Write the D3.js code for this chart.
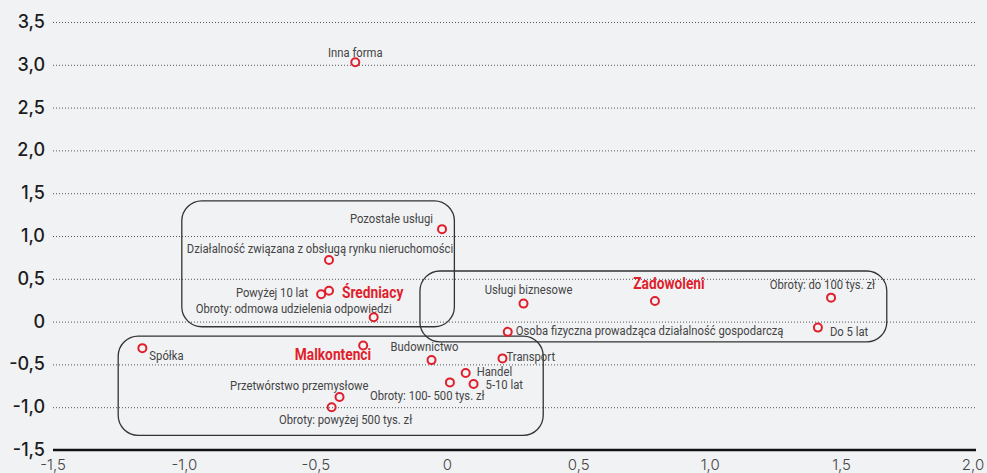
<!DOCTYPE html>
<html>
<head>
<meta charset="utf-8">
<script src="https://cdn.jsdelivr.net/npm/d3@7"></script>
<style>
  body { margin: 0; background: #f1f2f4; }
  svg { display: block; }
  .tick-y { font-family: Inter, "Open Sans", sans-serif; font-size: 18px; font-weight: 500; fill: #1c1c1c; }
  .tick-x { font-family: Inter, "Open Sans", sans-serif; font-size: 15px; font-weight: 300; fill: #444; }
  .pt-label { font-family: Roboto, "DejaVu Sans Condensed", sans-serif; font-size: 13.5px; font-weight: 400; fill: #444; }
  .grp-label { font-family: Roboto, "DejaVu Sans Condensed", sans-serif; font-size: 16px; font-weight: bold; fill: #e01f2d; }
</style>
</head>
<body>
<div id="chart"></div>
<script>
// segment names and their positions (x, y)
const names = [
  "Inna forma", "Pozostałe usługi", "Działalność związana z obsługą rynku nieruchomości",
  "Powyżej 10 lat", "Obroty: odmowa udzielenia odpowiedzi", "Usługi biznesowe",
  "Obroty: do 100 tys. zł", "Osoba fizyczna prowadząca działalność gospodarczą", "Do 5 lat",
  "Spółka", "Budownictwo", "Transport", "Handel", "5-10 lat",
  "Obroty: 100- 500 tys. zł", "Przetwórstwo przemysłowe", "Obroty: powyżej 500 tys. zł"
];
const xValues = [-0.35, -0.02, -0.45, -0.48, -0.28, 0.29, 1.46, 0.23, 1.41, -1.16, -0.06, 0.21, 0.07, 0.10, 0.01, -0.41, -0.44];
const yValues = [3.03, 1.08, 0.72, 0.32, 0.05, 0.21, 0.28, -0.12, -0.07, -0.31, -0.45, -0.43, -0.60, -0.73, -0.71, -0.88, -1.00];

// cluster centres
const groups = ["Średniacy", "Zadowoleni", "Malkontenci"];
const groupX = [-0.45, 0.79, -0.32];
const groupY = [0.36, 0.24, -0.28];
// cluster outlines: [x0, x1, y0, y1]
const groupBounds = [[-1.01, 0.027, -0.06, 1.41], [-0.104, 1.672, -0.237, 0.591], [-1.252, 0.365, -1.329, -0.17]];

const xTicks = [-1.5, -1.0, -0.5, 0, 0.5, 1.0, 1.5, 2.0];
const yTicks = [-1.5, -1.0, -0.5, 0, 0.5, 1.0, 1.5, 2.0, 2.5, 3.0, 3.5];

// label placement: [dx, dy, anchor]
const labelPos = [
  [0, -5, "middle"], [-9, -6, "end"], [-9, -7, "middle"], [-13, 3, "end"], [18, -4, "end"],
  [5, -10, "middle"], [44, -9, "end"], [8, 3, "start"], [12, 8, "start"],
  [7, 12, "start"], [-7, -9, "middle"], [4, 3, "start"], [11, 3, "start"], [12, 5, "start"],
  [-80, 18, "start"], [29, -7, "end"], [14, 17, "middle"]
];
const groupPos = [[13, 7, "start"], [14, -12, "middle"], [8, 14, "end"]];

const width = 987, height = 473;
const fmt = v => v === 0 ? "0" : d3.format(".1f")(v).replace(".", ",").replace("−", "-");

const x = d3.scaleLinear().domain([-1.5, 2]).range([53, 973]);
const y = d3.scaleLinear().domain([-1.5, 3.5]).range([450, 22]);

const svg = d3.select("#chart").append("svg")
  .attr("width", width).attr("height", height);

// grid
svg.selectAll(".grid").data(yTicks.filter(t => t > -1.5)).enter()
  .append("line")
  .attr("x1", 53).attr("x2", 976)
  .attr("y1", d => y(d) + 0.5).attr("y2", d => y(d) + 0.5)
  .attr("stroke", "#555").attr("stroke-width", 1).attr("stroke-dasharray", "1,2");

svg.append("line")
  .attr("x1", 53).attr("x2", 976).attr("y1", y(-1.5)).attr("y2", y(-1.5))
  .attr("stroke", "#111").attr("stroke-width", 2.5);

svg.selectAll(".tick-y").data(yTicks).enter()
  .append("text").attr("class", "tick-y")
  .attr("x", 45).attr("y", d => y(d) + 6)
  .attr("text-anchor", "end").text(fmt);

svg.selectAll(".tick-x").data(xTicks).enter()
  .append("text").attr("class", "tick-x")
  .attr("x", d => x(d)).attr("y", 470)
  .attr("text-anchor", "middle").text(fmt);

// cluster outlines
svg.selectAll(".box").data(groupBounds).enter()
  .append("rect")
  .attr("x", d => x(d[0])).attr("y", d => y(d[3]))
  .attr("width", d => x(d[1]) - x(d[0])).attr("height", d => y(d[2]) - y(d[3]))
  .attr("rx", 20).attr("ry", 20)
  .attr("fill", "none").attr("stroke", "#333").attr("stroke-width", 1.3);

const points = names.map((n, i) => ({ name: n, x: xValues[i], y: yValues[i], pos: labelPos[i] }));
const centres = groups.map((n, i) => ({ name: n, x: groupX[i], y: groupY[i], pos: groupPos[i] }));

// condensed look: squeeze labels horizontally
svg.selectAll(".pt-label").data(points).enter()
  .append("text").attr("class", "pt-label")
  .attr("transform", d => `translate(${x(d.x) + d.pos[0]},${y(d.y) + d.pos[1]}) scale(0.835,1)`)
  .attr("text-anchor", d => d.pos[2]).text(d => d.name);

svg.selectAll(".grp-label").data(centres).enter()
  .append("text").attr("class", "grp-label")
  .attr("transform", d => `translate(${x(d.x) + d.pos[0]},${y(d.y) + d.pos[1]}) scale(0.86,1)`)
  .attr("text-anchor", d => d.pos[2]).text(d => d.name);

svg.selectAll(".dot").data(points.concat(centres)).enter()
  .append("circle")
  .attr("cx", d => x(d.x)).attr("cy", d => y(d.y)).attr("r", 4)
  .attr("fill", "none").attr("stroke", "#e01f2d").attr("stroke-width", 2);
</script>
</body>
</html>
